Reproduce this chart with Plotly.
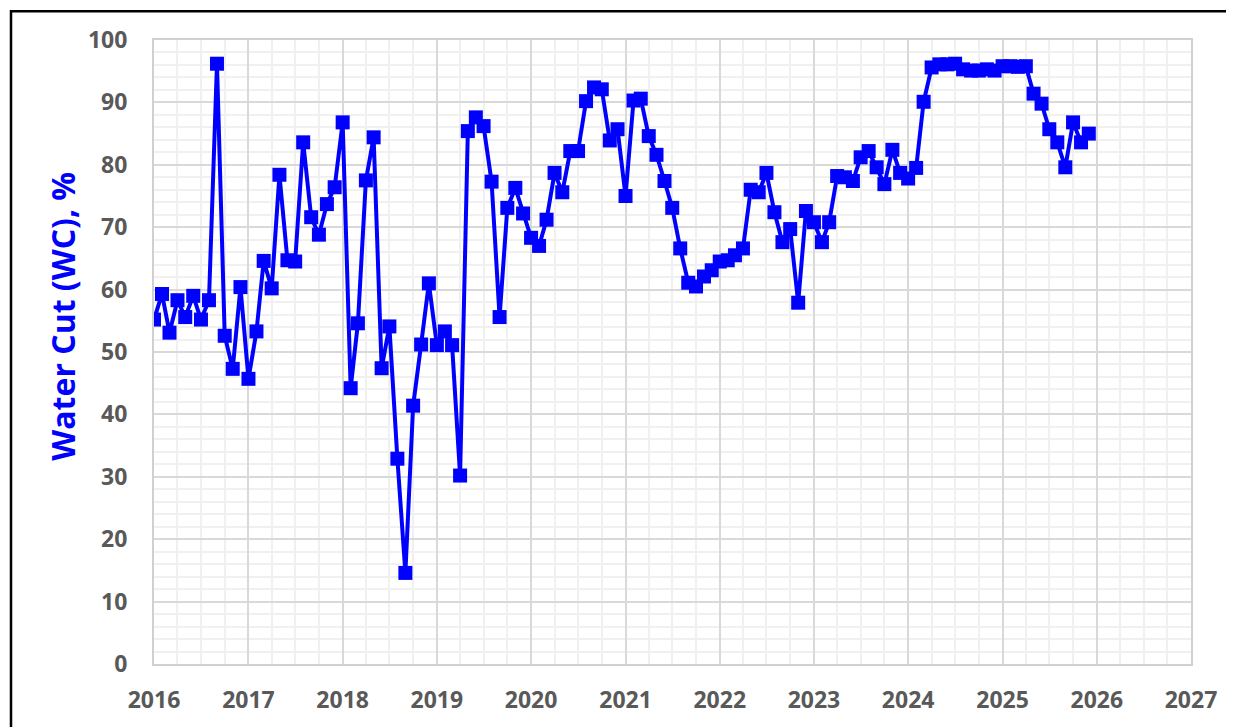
import plotly.graph_objects as go

# monthly water cut, Jan 2016 .. Dec 2025
years = list(range(2016, 2026))
water_cut = [
    # 2016
    55.2, 59.3, 53.1, 58.3, 55.6, 59.0, 55.2, 58.3, 96.2, 52.6, 47.3, 60.4,
    # 2017
    45.7, 53.3, 64.6, 60.2, 78.4, 64.7, 64.5, 83.6, 71.6, 68.8, 73.7, 76.4,
    # 2018
    86.8, 44.2, 54.6, 77.5, 84.4, 47.4, 54.1, 32.9, 14.6, 41.4, 51.2, 61.0,
    # 2019
    51.1, 53.3, 51.1, 30.2, 85.4, 87.6, 86.2, 77.3, 55.6, 73.1, 76.3, 72.2,
    # 2020
    68.3, 67.0, 71.2, 78.7, 75.6, 82.2, 82.2, 90.2, 92.4, 92.1, 83.9, 85.7,
    # 2021
    75.0, 90.3, 90.6, 84.6, 81.6, 77.4, 73.1, 66.6, 61.1, 60.5, 62.1, 63.1,
    # 2022
    64.5, 64.7, 65.5, 66.6, 76.0, 75.6, 78.7, 72.4, 67.6, 69.7, 57.9, 72.6,
    # 2023
    70.8, 67.6, 70.8, 78.2, 78.0, 77.4, 81.2, 82.2, 79.6, 76.9, 82.4, 78.7,
    # 2024
    77.8, 79.5, 90.1, 95.6, 96.1, 96.1, 96.2, 95.3, 95.1, 95.1, 95.3, 95.1,
    # 2025
    95.8, 95.8, 95.7, 95.8, 91.4, 89.8, 85.7, 83.6, 79.6, 86.8, 83.6, 85.0,
]
dates = [f"{y}-{m:02d}-01" for y in years for m in range(1, 13)]

FONT = "Open Sans"
GREY = "#595959"
BLUE = "#0000FF"

fig = go.Figure()
fig.add_trace(
    go.Scatter(
        x=dates,
        y=water_cut,
        mode="lines+markers",
        line=dict(color=BLUE, width=4),
        marker=dict(symbol="square", size=14, color=BLUE),
        showlegend=False,
    )
)

fig.update_xaxes(
    type="date",
    range=["2016-01-01", "2027-01-01"],
    dtick="M12",
    tick0="2016-01-01",
    tickformat="%Y",
    ticks="outside",
    ticklen=14,
    tickcolor="rgba(0,0,0,0)",
    tickfont=dict(family=FONT, size=23, color=GREY, weight="bold"),
    showgrid=True,
    gridcolor="#d9d9d9",
    gridwidth=1.5,
    minor=dict(dtick="M3", showgrid=True, gridcolor="#f0f0f0", gridwidth=1.5),
    showline=True,
    linecolor="#d0d0d0",
    linewidth=2,
    mirror=True,
    zeroline=False,
)
fig.update_yaxes(
    range=[0, 100],
    dtick=10,
    ticks="outside",
    ticklen=20,
    tickcolor="rgba(0,0,0,0)",
    tickfont=dict(family=FONT, size=23, color=GREY, weight="bold"),
    showgrid=True,
    gridcolor="#d9d9d9",
    gridwidth=1.5,
    minor=dict(dtick=2, showgrid=True, gridcolor="#f0f0f0", gridwidth=1.5),
    showline=True,
    linecolor="#d0d0d0",
    linewidth=2,
    mirror=True,
    zeroline=False,
)

# y title sits a little above the plot centre, as in the source chart
fig.add_annotation(
    text="Water Cut (WC), %",
    xref="paper", yref="paper",
    x=(63 - 154) / 1037, y=(667 - 318) / 627,
    xanchor="center", yanchor="middle",
    textangle=-90,
    showarrow=False,
    font=dict(family=FONT, size=32, color=BLUE, weight="bold"),
)

# black frame around the chart area (paper coords relative to plot area)
fig.add_shape(
    type="rect", xref="paper", yref="paper",
    x0=(11 - 154) / 1037, x1=(1245 - 154) / 1037,
    y0=(667 - 745) / 627, y1=(667 - 11) / 627,
    line=dict(color="black", width=2.5),
    layer="above",
)

# page has an 8px body margin, so the figure is 1226x719
fig.update_layout(
    width=1226,
    height=719,
    margin=dict(l=146, r=43, t=32, b=60),
    plot_bgcolor="white",
    paper_bgcolor="white",
)

fig.write_html("out.html")
